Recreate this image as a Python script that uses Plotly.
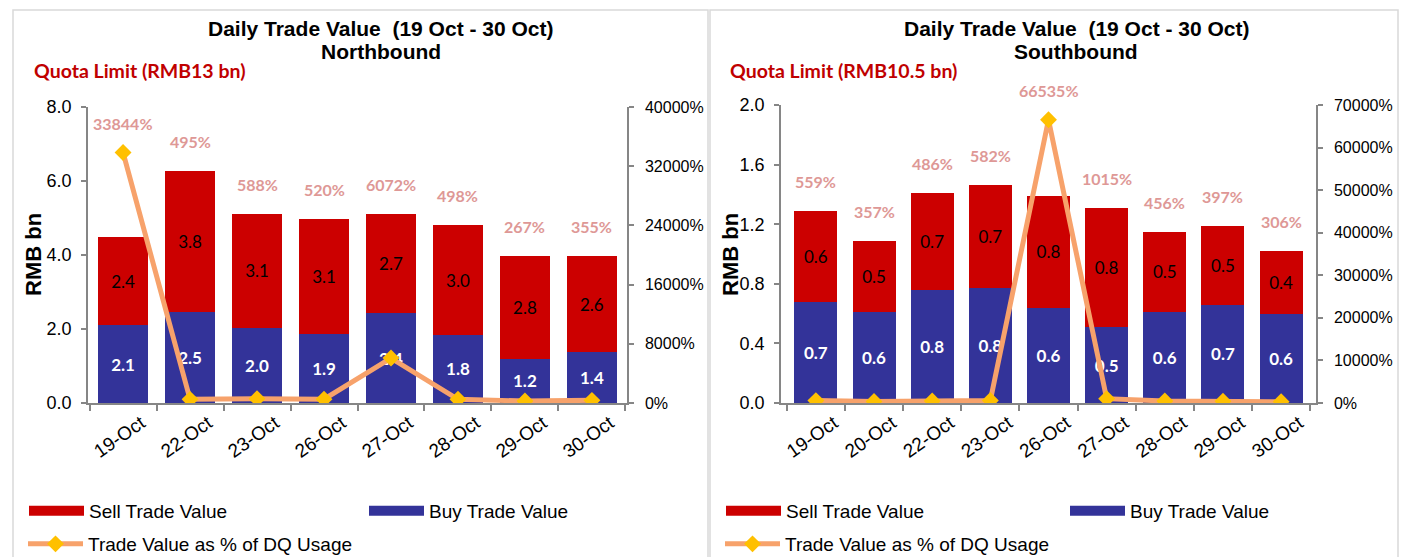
import plotly.graph_objects as go

W, H = 1404, 557

# ---------------- data ----------------
nb_dates = ["19-Oct", "22-Oct", "23-Oct", "26-Oct", "27-Oct", "28-Oct", "29-Oct", "30-Oct"]
nb_buy = [2.10, 2.46, 2.04, 1.87, 2.43, 1.84, 1.19, 1.39]
nb_sell = [2.39, 3.81, 3.08, 3.11, 2.67, 2.96, 2.78, 2.57]
nb_pct = [33844, 495, 588, 520, 6072, 498, 267, 355]

sb_dates = ["19-Oct", "20-Oct", "22-Oct", "23-Oct", "26-Oct", "27-Oct", "28-Oct", "29-Oct", "30-Oct"]
sb_buy = [0.68, 0.61, 0.76, 0.77, 0.64, 0.51, 0.61, 0.66, 0.60]
sb_sell = [0.61, 0.48, 0.65, 0.69, 0.75, 0.80, 0.54, 0.53, 0.42]
sb_pct = [559, 357, 486, 582, 66535, 1015, 456, 397, 306]

title_line1 = "Daily Trade Value\u00a0 (19 Oct - 30 Oct)"
nb_name = "Northbound"
sb_name = "Southbound"
nb_quota = "Quota Limit (RMB13 bn)"
sb_quota = "Quota Limit (RMB10.5 bn)"

# ---------------- style ----------------
RED = "#CC0000"
BLUE = "#333399"
LINE = "#F7A26B"
MARK = "#FFC000"
PCT_COL = "#DE9896"
AX = "#868686"
ARIAL = "Liberation Sans, Arial, sans-serif"
CALI = "Lato, Carlito, Calibri, sans-serif"


def px(x):
    return x / W


def py(y):
    return 1 - y / H


fig = go.Figure()


def add_panel(dates, buy, sell, pct, xa, ya, ya2, legs, ymax, y2max):
    fig.add_trace(go.Bar(
        x=dates, y=buy, name="Buy Trade Value", marker=dict(color=BLUE, line=dict(width=0)),
        text=[f"{v:.1f}" for v in buy], textposition="inside", insidetextanchor="middle",
        textangle=0, constraintext="none",
        textfont=dict(family=CALI, size=17, color="white", weight="bold"),
        xaxis=xa, yaxis=ya, showlegend=False, hoverinfo="x+y"))
    fig.add_trace(go.Bar(
        x=dates, y=sell, name="Sell Trade Value", marker=dict(color=RED, line=dict(width=0)),
        text=[f"{v:.1f}" for v in sell], textposition="inside", insidetextanchor="middle",
        textangle=0, constraintext="none",
        textfont=dict(family=CALI, size=17, color="black"),
        xaxis=xa, yaxis=ya, showlegend=False, hoverinfo="x+y"))
    # legend proxies for bars (wide swatches)
    fig.add_trace(go.Scatter(x=[None], y=[None], mode="lines", name="Sell Trade Value",
                             line=dict(color=RED, width=10), xaxis=xa, yaxis=ya, legend=legs[0]))
    fig.add_trace(go.Scatter(x=[None], y=[None], mode="lines", name="Buy Trade Value",
                             line=dict(color=BLUE, width=10), xaxis=xa, yaxis=ya, legend=legs[1]))
    fig.add_trace(go.Scatter(
        x=dates, y=pct, mode="lines+markers", name="Trade Value as % of DQ Usage",
        line=dict(color=LINE, width=5),
        marker=dict(symbol="diamond", size=13, color=MARK, line=dict(width=0)),
        xaxis=xa, yaxis=ya2, legend=legs[2]))
    # percent labels
    for d, b, s, p in zip(dates, buy, sell, pct):
        top = max(b + s, p / y2max * ymax)
        fig.add_annotation(x=d, y=top, xref=xa, yref=ya, text=f"{p}%",
                           showarrow=False, yanchor="bottom", yshift=18,
                           font=dict(family=CALI, size=16, color=PCT_COL, weight="bold"))


add_panel(nb_dates, nb_buy, nb_sell, nb_pct, "x", "y", "y2",
          ["legend", "legend2", "legend3"], 8, 40000)
add_panel(sb_dates, sb_buy, sb_sell, sb_pct, "x2", "y3", "y4",
          ["legend4", "legend5", "legend6"], 2, 70000)

axis_common = dict(showline=True, linecolor=AX, linewidth=1.5, ticks="outside", ticklen=5,
                   tickcolor=AX, tickwidth=1.5, showgrid=False, zeroline=False,
                   fixedrange=True, automargin=False)
xcommon = dict(axis_common, type="category", tickson="boundaries", tickangle=-35, ticklen=6,
               ticklabelshift=18,
               tickfont=dict(family=ARIAL, size=19, color="black"))
ycommon = dict(axis_common, tickfont=dict(family=ARIAL, size=18, color="black"),
               ticklabelstandoff=6)
y2common = dict(axis_common, tickfont=dict(family=ARIAL, size=16, color="black"),
                ticksuffix="%", ticklabelstandoff=8, tickformat="d")

NB_X = [px(88), px(627)]
NB_Y = [py(403), py(107)]
SB_X = [px(781), px(1316)]
SB_Y = [py(403), py(105)]

legend_common = dict(orientation="h", xanchor="left", yanchor="middle", itemwidth=55,
                     bgcolor="rgba(0,0,0,0)", font=dict(family=ARIAL, size=19, color="black"),
                     itemclick=False, itemdoubleclick=False)

fig.update_layout(
    width=W, height=H, margin=dict(l=0, r=0, t=0, b=0, autoexpand=False),
    paper_bgcolor="white", plot_bgcolor="white",
    barmode="stack", bargap=0.26,
    xaxis=dict(xcommon, domain=NB_X, anchor="y"),
    yaxis=dict(ycommon, domain=NB_Y, anchor="x", range=[0, 8], dtick=2, tickformat=".1f"),
    yaxis2=dict(y2common, overlaying="y", side="right", anchor="x", range=[0, 40000], dtick=8000),
    xaxis2=dict(xcommon, domain=SB_X, anchor="y3"),
    yaxis3=dict(ycommon, domain=SB_Y, anchor="x2", range=[0, 2], dtick=0.4, tickformat=".1f"),
    yaxis4=dict(y2common, overlaying="y3", side="right", anchor="x2", range=[0, 70000], dtick=10000),
    legend=dict(legend_common, x=px(24), y=py(511)),
    legend2=dict(legend_common, x=px(364), y=py(511)),
    legend3=dict(legend_common, x=px(23), y=py(544)),
    legend4=dict(legend_common, x=px(721), y=py(511)),
    legend5=dict(legend_common, x=px(1065), y=py(511)),
    legend6=dict(legend_common, x=px(720), y=py(544)),
    showlegend=True,
)

# panel borders
for x0, x1 in [(13, 708), (710, 1398)]:
    fig.add_shape(type="rect", xref="paper", yref="paper", x0=px(x0), x1=px(x1),
                  y0=-0.05, y1=py(10), line=dict(color="#D9D9D9", width=1.5),
                  fillcolor="rgba(0,0,0,0)", layer="below")

# titles
for cx, name in [(381, nb_name), (1076, sb_name)]:
    fig.add_annotation(x=px(cx), y=py(28), xref="paper", yref="paper", text=title_line1,
                       showarrow=False, xanchor="center", yanchor="middle",
                       font=dict(family=ARIAL, size=21, color="black", weight="bold"))
    fig.add_annotation(x=px(cx), y=py(52), xref="paper", yref="paper", text=name,
                       showarrow=False, xanchor="center", yanchor="middle",
                       font=dict(family=ARIAL, size=21, color="black", weight="bold"))

# quota texts
for lx, txt in [(32, nb_quota), (728, sb_quota)]:
    fig.add_annotation(x=px(lx), y=py(70), xref="paper", yref="paper", text=txt,
                       showarrow=False, xanchor="left", yanchor="middle",
                       font=dict(family=CALI, size=19.5, color="#C00000", weight="bold"))

# y-axis titles
for cx in [33, 730]:
    fig.add_annotation(x=px(cx), y=py(255), xref="paper", yref="paper", text="RMB bn",
                       showarrow=False, textangle=-90, xanchor="center", yanchor="middle",
                       font=dict(family=ARIAL, size=22, color="black", weight="bold"))

fig.write_html("out.html")
